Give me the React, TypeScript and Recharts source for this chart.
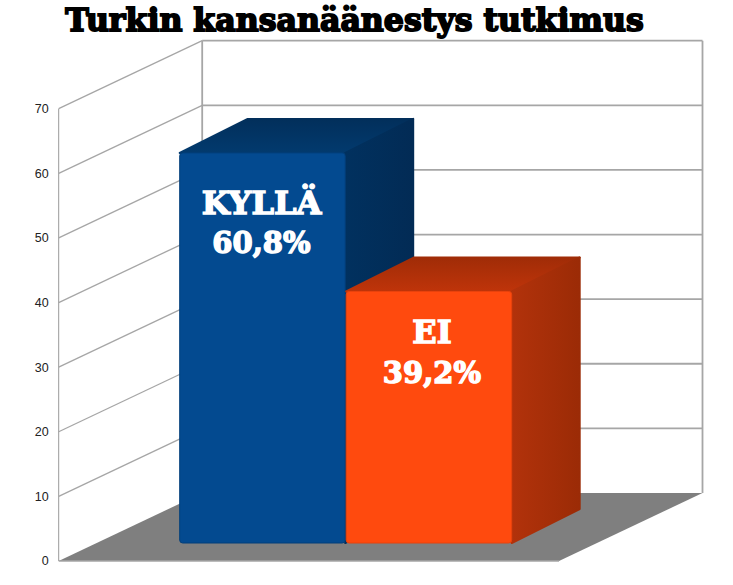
import { Bar, BarChart, CartesianGrid, XAxis, YAxis } from "recharts";

const categories = ["KYLLÄ", "EI"];
const shares = [60.8, 39.2];
const shareLabels = ["60,8%", "39,2%"];
const axisTicks = [0, 10, 20, 30, 40, 50, 60, 70];

const row: any = { name: "Turkki" };
categories.forEach((c, i) => {
  row[c] = shares[i];
});
const data = [row];

// colours per bar: front, top gradient id, side gradient id
const looks: any = {
  KYLLÄ: { front: "#034a90", edge: "#033f7a", top: "url(#blueTop)", side: "url(#blueSide)", labelDx: -1, labelDy: 61, lineGap: 39 },
  EI: { front: "#ff4a0e", edge: "#e8430d", top: "url(#redTop)", side: "url(#redSide)", labelDx: 3, labelDy: 52, lineGap: 40 },
};

// 3d look of the wall and of the bars
const WALL_DX = 143.5;
const WALL_DY = 68;
const BAR_DX = 68;
const BAR_DY = 34;
const BAR_SHIFT_X = 37;
const BAR_SHIFT_Y = -18;
const DEPTH_SCALE = 0.993; // bars stand a bit behind the front edge
const GRID = "#a6a6a6";
const TITLE_FONT = "'DejaVu Serif', serif";

function WallLine(props: any) {
  const { x1, x2, y1, y, height, index } = props;
  const isFloor = Math.abs(y1 - (y + height)) < 1;
  return (
    <g key={props.key ?? index}>
      {isFloor && (
        <>
          <polygon
            points={`${x1},${y1} ${x1 + WALL_DX},${y1 - WALL_DY} ${x2 + WALL_DX},${y1 - WALL_DY} ${x2},${y1}`}
            fill="#7f7f7f"
          />
          <line x1={x1} y1={y} x2={x1} y2={y1} stroke="#999" strokeWidth={1} />
          <line x1={x1 + WALL_DX} y1={y - WALL_DY} x2={x1 + WALL_DX} y2={y1 - WALL_DY} stroke={GRID} strokeWidth={1.8} />
          <line x1={x2 + WALL_DX} y1={y - WALL_DY} x2={x2 + WALL_DX} y2={y1 - WALL_DY} stroke={GRID} strokeWidth={1.8} />
          <line x1={x1} y1={y1} x2={x2} y2={y1} stroke={GRID} strokeWidth={1.4} />
        </>
      )}
      {!isFloor && (
        <>
          <line x1={x1} y1={y1} x2={x1 + WALL_DX} y2={y1 - WALL_DY} stroke={GRID} strokeWidth={1.3} />
          <line x1={x1 + WALL_DX} y1={y1 - WALL_DY} x2={x2 + WALL_DX} y2={y1 - WALL_DY} stroke={GRID} strokeWidth={1.8} />
        </>
      )}
    </g>
  );
}

function Box(props: any) {
  const { x, y, width, height, dataKey } = props;
  const look = looks[dataKey];
  const idx = categories.indexOf(dataKey);
  const h = height * DEPTH_SCALE;
  const l = x + BAR_SHIFT_X;
  const b = y + height + BAR_SHIFT_Y;
  const t = b - h;
  const r = l + width;
  const cx = l + width / 2 + look.labelDx;
  return (
    <g>
      <polygon
        points={`${l},${t} ${l + BAR_DX},${t - BAR_DY} ${r + BAR_DX},${t - BAR_DY} ${r},${t}`}
        fill={look.top}
        stroke={look.top}
        strokeWidth={2}
        strokeLinejoin="round"
      />
      <polygon
        points={`${r},${t} ${r + BAR_DX},${t - BAR_DY} ${r + BAR_DX},${b - BAR_DY} ${r},${b}`}
        fill={look.side}
        stroke={look.side}
        strokeWidth={2}
        strokeLinejoin="round"
      />
      <rect x={l} y={t} width={width} height={h} rx={3} fill={look.front} stroke={look.edge} strokeWidth={1} />
      <text
        x={cx}
        y={t + look.labelDy}
        textAnchor="middle"
        fontFamily={TITLE_FONT}
        fontWeight="bold"
        fontSize={32}
        fill="#fff"
        stroke="#fff"
        strokeWidth={1.4}
      >
        {categories[idx]}
      </text>
      <text
        x={cx}
        y={t + look.labelDy + look.lineGap}
        textAnchor="middle"
        fontFamily={TITLE_FONT}
        fontWeight="bold"
        fontSize={29}
        fill="#fff"
        stroke="#fff"
        strokeWidth={1.4}
      >
        {shareLabels[idx]}
      </text>
    </g>
  );
}

export default function App() {
  return (
    <div style={{ position: "absolute", left: 0, top: 0, background: "#fff" }}>
      <BarChart
        width={733}
        height={585}
        data={data}
        margin={{ top: 108.7, right: 174, bottom: 24, left: 0 }}
        barSize={165.5}
        barGap={1}
      >
        <defs>
          <linearGradient id="blueTop" x1="0" y1="1" x2="0" y2="0">
            <stop offset="0" stopColor="#023a6e" />
            <stop offset="1" stopColor="#022f5b" />
          </linearGradient>
          <linearGradient id="blueSide" x1="0" y1="0" x2="1" y2="0">
            <stop offset="0" stopColor="#01315f" />
            <stop offset="1" stopColor="#022b55" />
          </linearGradient>
          <linearGradient id="redTop" x1="0" y1="1" x2="0" y2="0">
            <stop offset="0" stopColor="#bf340a" />
            <stop offset="1" stopColor="#a02c07" />
          </linearGradient>
          <linearGradient id="redSide" x1="0" y1="0" x2="1" y2="0">
            <stop offset="0" stopColor="#b2320b" />
            <stop offset="1" stopColor="#9b2b06" />
          </linearGradient>
        </defs>
        <text
          x={354.5}
          y={31}
          textAnchor="middle"
          fontFamily={TITLE_FONT}
          fontWeight="bold"
          fontSize={31.6}
          fill="#000"
          stroke="#000"
          strokeWidth={1.8}
        >
          Turkin kansanäänestys tutkimus
        </text>
        <CartesianGrid vertical={false} horizontal={(p: any) => <WallLine {...p} />} />
        <XAxis dataKey="name" hide />
        <YAxis
          width={58.7}
          domain={[0, 70]}
          ticks={axisTicks}
          interval={0}
          axisLine={false}
          tickLine={false}
          tickSize={0}
          tickMargin={10}
          tick={{ fontSize: 12.5, fontFamily: "'Liberation Sans', Arial, sans-serif", fill: "#222" }}
        />
        {categories.map((c) => (
          <Bar key={c} dataKey={c} shape={<Box dataKey={c} />} isAnimationActive={false} />
        ))}
      </BarChart>
    </div>
  );
}
